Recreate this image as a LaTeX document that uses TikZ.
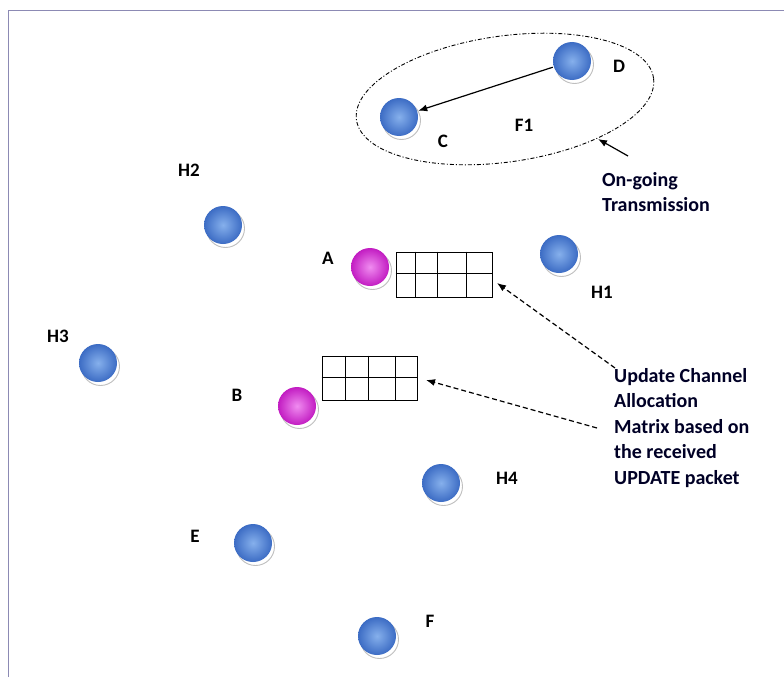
\documentclass[tikz,border=0pt]{standalone}
\usepackage{fontspec}
\setmainfont{Carlito}
\usetikzlibrary{shapes.geometric,calc,arrows.meta}
\definecolor{frameline}{HTML}{8C8AB4}
\definecolor{blueout}{HTML}{3C6CC4}
\definecolor{bluein}{HTML}{86B0EC}
\definecolor{magout}{HTML}{C21CC2}
\definecolor{magin}{HTML}{F08CF0}
\tikzset{
  ball/.style={circle, minimum size=38pt, inner sep=0pt, shading=radial,
    preaction={fill=white, draw=black!25, line width=0.9pt,
      transform canvas={shift={(2.5pt,-3.5pt)}}}},
  blueball/.style={ball, inner color=bluein, outer color=blueout},
  magball/.style={ball, inner color=magin, outer color=magout},
  lbl/.style={font=\bfseries\fontsize{19}{22}\selectfont, inner sep=0pt},
  gridbox/.style={draw, line width=0.9pt, inner sep=0pt},
  gridline/.style={line width=0.9pt},
  note/.style={font=\bfseries\fontsize{20}{25.5}\selectfont, align=left, inner sep=0pt, text=black!85!blue},
  dasharrow/.style={dash pattern=on 5pt off 3pt, line width=1.2pt, -{Latex[length=9pt,width=7pt]}},
  solidarrow/.style={line width=1.2pt, -{Latex[length=9pt,width=7pt]}}
}
\begin{document}
\begin{tikzpicture}[x=1pt,y=-1pt]
\useasboundingbox (0,0) rectangle (784,677);
\fill[white] (0,0) rectangle (784,677);
% frame
\draw[frameline, line width=1.6pt] (8.5,677) -- (8.5,10.5) -- (784,10.5);

% transmission region
\node[ellipse, draw, line width=0.9pt, dash pattern=on 4pt off 2pt on 1pt off 2pt,
  minimum width=300pt, minimum height=126pt, rotate=8] (zone) at (505,99) {};

% nodes
\node[blueball] (D) at (572,61) {};
\node[blueball] (C) at (399,117) {};
\node[blueball] (H2) at (223,225) {};
\node[magball] (A) at (370,267) {};
\node[blueball] (H1) at (559,254) {};
\node[blueball] (H3) at (98,363) {};
\node[magball] (B) at (297,406) {};
\node[blueball] (H4) at (441,483) {};
\node[blueball] (E) at (253,543) {};
\node[blueball] (F) at (377,636) {};

% labels
\node[lbl] (lD) at (619,66) {D};
\node[lbl] (lC) at (443,141) {C};
\node[lbl] (lF1) at (524,125) {F1};
\node[lbl] (lH2) at (189,170) {H2};
\node[lbl] (lA) at (328,258) {A};
\node[lbl] (lH1) at (602,292) {H1};
\node[lbl] (lH3) at (58,336) {H3};
\node[lbl] (lB) at (237,395) {B};
\node[lbl] (lH4) at (507,478) {H4};
\node[lbl] (lE) at (195,536) {E};
\node[lbl] (lF) at (430,621) {F};

% channel allocation matrices
\node[gridbox, minimum width=96pt, minimum height=45pt] (MA) at (444,274.5) {};
\foreach \f in {0.21,0.43,0.73}
  \draw[gridline] ($(MA.north west)!\f!(MA.north east)$) -- ($(MA.south west)!\f!(MA.south east)$);
\draw[gridline] ($(MA.north west)!0.47!(MA.south west)$) -- ($(MA.north east)!0.47!(MA.south east)$);

\node[gridbox, minimum width=95pt, minimum height=44pt] (MB) at (369.5,378) {};
\foreach \f in {0.25,0.49,0.77}
  \draw[gridline] ($(MB.north west)!\f!(MB.north east)$) -- ($(MB.south west)!\f!(MB.south east)$);
\draw[gridline] ($(MB.north west)!0.48!(MB.south west)$) -- ($(MB.north east)!0.48!(MB.south east)$);

% annotations
\node[note, anchor=north west] (og) at (602,172) {On-going\\Transmission};
\node[note, anchor=north west] (upd) at (614,368) {Update Channel\\Allocation\\Matrix based on\\the received\\UPDATE packet};

% connectors
\draw[solidarrow, shorten <=1pt, shorten >=1pt] (D) -- (C);
\coordinate (ogtail) at (628,156);
\coordinate (ogtip) at (598,139);
\draw[solidarrow] (ogtail) -- (ogtip);
\coordinate (u1) at (615,368);
\coordinate (m1) at (497,283);
\draw[dasharrow] (u1) -- (m1);
\coordinate (u2) at (597,428);
\coordinate (m2) at (426,380);
\draw[dasharrow] (u2) -- (m2);
\end{tikzpicture}
\end{document}
